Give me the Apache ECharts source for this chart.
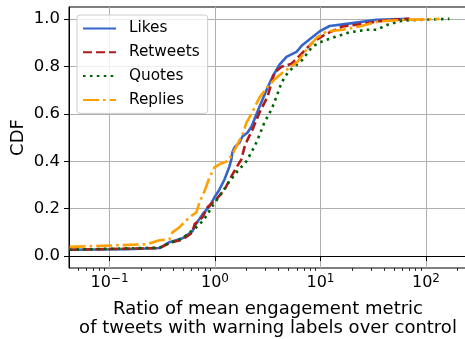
<!DOCTYPE html>
<html>
<head>
<meta charset="utf-8">
<script src="https://cdn.jsdelivr.net/npm/echarts@6/dist/echarts.min.js"></script>
<style>
html, body { margin: 0; padding: 0; background: #fff; }
#chart { width: 465px; height: 339px; }
</style>
</head>
<body>
<div id="chart"></div>
<script>
// CDF curves: [ratio, cumulative fraction]
const likes = [
    [0.0418, 0.027], [0.15, 0.029], [0.298, 0.034], [0.37, 0.059], [0.492, 0.075],
    [0.612, 0.105], [0.64, 0.126], [0.761, 0.176], [0.887, 0.21], [0.989, 0.248],
    [1.10, 0.28], [1.23, 0.323], [1.37, 0.378], [1.43, 0.408], [1.46, 0.437],
    [1.53, 0.458], [1.71, 0.479], [1.82, 0.504], [2.03, 0.52], [2.22, 0.546],
    [2.64, 0.63], [3.08, 0.70], [3.51, 0.756], [4.09, 0.807], [4.76, 0.84],
    [5.92, 0.861], [6.75, 0.89], [9.79, 0.947], [12.2, 0.97], [20.1, 0.982],
    [34.0, 0.996], [69.8, 1.0]
];
const retweets = [
    [0.0418, 0.027], [0.298, 0.034], [0.37, 0.055], [0.492, 0.07], [0.612, 0.1],
    [0.64, 0.134], [0.761, 0.164], [0.849, 0.206], [1.033, 0.24], [1.23, 0.28],
    [1.43, 0.336], [1.60, 0.374], [1.78, 0.408], [1.90, 0.458], [1.99, 0.479],
    [2.03, 0.49], [2.27, 0.534], [2.64, 0.605], [3.15, 0.672], [3.66, 0.773],
    [4.27, 0.798], [5.31, 0.811], [6.06, 0.836], [8.40, 0.9], [10.9, 0.933],
    [16.2, 0.968], [21.9, 0.975], [36.3, 0.99], [45.1, 0.996], [69.8, 1.0]
];
const quotes = [
    [0.0418, 0.027], [0.298, 0.036], [0.37, 0.055], [0.492, 0.075], [0.573, 0.1],
    [0.66, 0.12], [0.761, 0.147], [0.85, 0.176], [0.927, 0.206], [1.10, 0.252],
    [1.37, 0.315], [1.63, 0.357], [1.99, 0.4], [2.37, 0.462], [2.53, 0.49],
    [2.94, 0.563], [3.43, 0.618], [3.83, 0.672], [4.27, 0.731], [4.76, 0.765],
    [5.43, 0.794], [6.32, 0.815], [6.75, 0.828], [8.40, 0.884], [10.4, 0.905],
    [14.2, 0.926], [18.8, 0.943], [27.3, 0.954], [34.0, 0.954], [43.2, 0.975],
    [56.1, 0.99], [69.8, 0.994], [101, 0.997], [167, 1.0]
];
const replies = [
    [0.0418, 0.039], [0.224, 0.05], [0.298, 0.067], [0.37, 0.071], [0.395, 0.10],
    [0.461, 0.122], [0.573, 0.164], [0.668, 0.185], [0.713, 0.227], [0.795, 0.273],
    [0.887, 0.332], [0.989, 0.374], [1.10, 0.387], [1.31, 0.40], [1.46, 0.428],
    [1.63, 0.47], [1.82, 0.513], [1.99, 0.563], [2.27, 0.609], [2.64, 0.668],
    [3.15, 0.714], [3.66, 0.744], [4.36, 0.773], [5.08, 0.794], [6.06, 0.819],
    [7.37, 0.87], [9.17, 0.92], [11.4, 0.947], [16.2, 0.954], [23.4, 0.968],
    [36.3, 0.99], [69.8, 0.997], [101, 0.998], [134, 1.0]
];

const seriesNames = ['Likes', 'Retweets', 'Quotes', 'Replies'];
const xMajorTicks = [0.1, 1, 10, 100];
const xMinorTicks = [0.05, 0.06, 0.07, 0.08, 0.09,
    0.2, 0.3, 0.4, 0.5, 0.6, 0.7, 0.8, 0.9,
    2, 3, 4, 5, 6, 7, 8, 9,
    20, 30, 40, 50, 60, 70, 80, 90, 200];
const yTicks = [0, 0.2, 0.4, 0.6, 0.8, 1.0];

const xTitle = 'Ratio of mean engagement metric\nof tweets with warning labels over control';
const yTitle = 'CDF';

const font = 'DejaVu Sans';
const xMin = 0.0413, xMax = 245;

function lineSeries(name, data, color, type) {
    return {
        name: name,
        type: 'line',
        data: data,
        symbol: 'none',
        clip: true,
        lineStyle: { color: color, width: 2.6, type: type, cap: 'butt', join: 'round' },
        itemStyle: { color: color }
    };
}

let chart = echarts.init(document.getElementById('chart'), null, { renderer: 'canvas' });

let option = {
    backgroundColor: '#fff',
    animation: false,
    textStyle: { fontFamily: font },
    grid: {
        left: 69, right: -2, top: 7, bottom: 71,
        // keep the plot box where it is; don't shrink it to fit the axis titles
        outerBoundsMode: 'none',
        show: true, borderColor: '#000', borderWidth: 1
    },
    legend: {
        orient: 'vertical',
        left: 77,
        top: 15,
        padding: [6, 8, 6, 5],
        itemGap: 8.8,
        itemWidth: 33,
        itemHeight: 14,
        backgroundColor: 'rgba(255,255,255,0.8)',
        borderColor: '#cccccc',
        borderWidth: 1,
        borderRadius: 3,
        // hide the marker that ECharts puts in the middle of line icons
        itemStyle: { opacity: 0 },
        textStyle: { fontFamily: font, fontSize: 15.3, color: '#000', lineHeight: 14, padding: [0, 0, 0, 8] },
        data: seriesNames
    },
    xAxis: [
        {
            type: 'log',
            logBase: 10,
            min: xMin,
            max: xMax,
            axisLine: { show: true, lineStyle: { color: '#000', width: 1 } },
            axisTick: { show: true, length: 5, customValues: xMajorTicks, lineStyle: { color: '#000', width: 1 } },
            axisLabel: {
                customValues: xMajorTicks,
                margin: 5,
                color: '#000',
                formatter: function (v) {
                    let e = Math.round(Math.log10(v));
                    return '{b|10}{s|' + String(e).replace('-', '\u2212') + '}';
                },
                rich: {
                    b: { fontFamily: font, fontSize: 16, lineHeight: 20, color: '#000' },
                    s: { fontFamily: font, fontSize: 12, lineHeight: 11, verticalAlign: 'top', color: '#000' }
                }
            },
            splitLine: { show: true, lineStyle: { color: '#b0b0b0', width: 1 } },
            name: xTitle,
            nameLocation: 'middle',
            nameGap: 32,
            nameMoveOverlap: false,
            nameTextStyle: { fontFamily: font, fontSize: 18, lineHeight: 19, color: '#000' }
        },
        {
            type: 'log',
            logBase: 10,
            min: xMin,
            max: xMax,
            position: 'bottom',
            axisLine: { show: false },
            axisTick: { show: true, length: 3, customValues: xMinorTicks, lineStyle: { color: '#000', width: 0.8 } },
            axisLabel: { show: false },
            splitLine: { show: false }
        }
    ],
    yAxis: {
        type: 'value',
        min: -0.05,
        max: 1.05,
        axisLine: { show: true, lineStyle: { color: '#000', width: 1 } },
        axisTick: { show: true, length: 5, customValues: yTicks, lineStyle: { color: '#000', width: 1 } },
        axisLabel: {
            customValues: yTicks,
            margin: 9,
            color: '#000',
            fontFamily: font,
            fontSize: 16.5,
            formatter: function (v) { return v.toFixed(1); }
        },
        splitLine: { show: true, lineStyle: { color: '#b0b0b0', width: 1 } },
        name: yTitle,
        nameLocation: 'middle',
        nameGap: 42,
        nameMoveOverlap: false,
        nameRotate: 90,
        nameTextStyle: { fontFamily: font, fontSize: 18, color: '#000' }
    },
    series: [
        lineSeries(seriesNames[0], likes, '#3366cc', 'solid'),
        lineSeries(seriesNames[1], retweets, '#b01a1a', [9, 4]),
        lineSeries(seriesNames[2], quotes, '#006400', [2.6, 4.3]),
        lineSeries(seriesNames[3], replies, '#ffa000', [16, 4, 2.6, 4])
    ]
};

chart.setOption(option);
</script>
</body>
</html>
